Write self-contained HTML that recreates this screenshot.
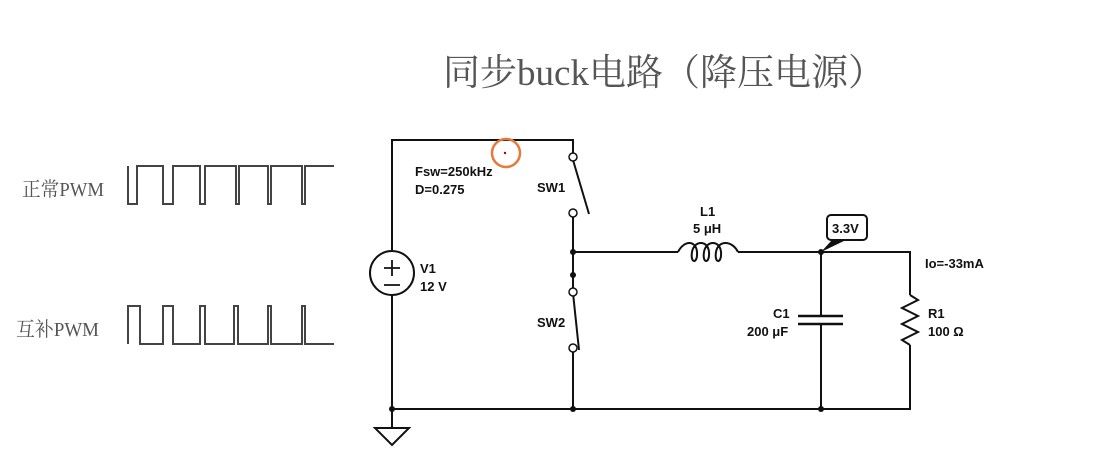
<!DOCTYPE html>
<html><head><meta charset="utf-8"><style>
body{margin:0;width:1097px;height:473px;background:#fff;overflow:hidden}
svg{display:block}
.t{font-family:"Liberation Sans",Arial,sans-serif;font-weight:bold;font-size:13px;fill:#111}
.s{font-family:"Liberation Serif","Noto Serif CJK SC",serif;fill:#555}
</style></head><body>
<svg width="1097" height="473" viewBox="0 0 1097 473">
<text class="s" x="443" y="85" font-size="37" textLength="442" lengthAdjust="spacingAndGlyphs">同步buck电路（降压电源）</text>
<text class="s" x="22" y="196" font-size="20" textLength="82" lengthAdjust="spacingAndGlyphs">正常PWM</text>
<text class="s" x="16" y="336" font-size="20" textLength="83" lengthAdjust="spacingAndGlyphs">互补PWM</text>
<g fill="none" stroke="#444" stroke-width="2">
<path d="M128,166 V204 H137 V166 H163 V204 H173 V166 H200 V204 H205 V166 H236 V204 H239 V166 H268 V204 H271 V166 H302 V204 H305 V166 H334"/>
<path d="M128,344 V306 H140 V344 H163 V306 H173 V344 H200 V306 H205 V344 H234 V306 H238 V344 H268 V306 H271 V344 H302 V306 H305 V344 H334"/>
</g>
<g fill="none" stroke="#111" stroke-width="2">
<path d="M392,251 V140 H573 V153"/>
<path d="M392,295 V409 H910 V345"/>
<path d="M910,295 V252 H738 M678,252 H573"/>
<path d="M573,217 V288 M573,352 V409"/>
<path d="M573,160 L589,214"/>
<path d="M573,293 L579,350"/>
<path d="M821,252 V316 M821,324 V409"/>
<path d="M798,316 H843 M798,324 H843" stroke-width="2.5"/>
<path d="M910,295 L918,300 L902,308 L918,316 L902,324 L918,332 L902,340 L910,345"/>
<circle cx="392" cy="273" r="22"/>
<path d="M384,268 H400 M392,260 V276 M384,285 H400" stroke-width="1.8"/>
<path d="M392,409 V428 M375,428 H409 L392,445 Z"/>
<path d="M678,252 C684,240 696,240 697,252 C698,264 690,264 692,252 C694,240 708,240 709,252 C710,264 702,264 704,252 C706,240 720,240 721,252 C722,264 714,264 716,252 C718,240 732,240 738,252" stroke-width="2"/>
</g>
<g fill="#fff" stroke="#111" stroke-width="1.5">
<circle cx="573" cy="157" r="4"/><circle cx="573" cy="213" r="4"/>
<circle cx="573" cy="292" r="4"/><circle cx="573" cy="348" r="4"/>
</g>
<g fill="#111">
<circle cx="573" cy="252" r="3"/><circle cx="573" cy="275" r="3"/>
<circle cx="392" cy="409" r="3"/><circle cx="573" cy="409" r="3"/>
<circle cx="821" cy="252" r="3"/><circle cx="821" cy="409" r="3"/>
<path d="M821,252 L832,240 L846,240 Z"/>
</g>
<rect x="827" y="215" width="40" height="25" rx="4" fill="#fff" stroke="#111" stroke-width="2"/>
<text class="t" x="832" y="233">3.3V</text>
<circle cx="506" cy="153" r="14" fill="none" stroke="#e8793a" stroke-width="2.5"/>
<circle cx="505" cy="153" r="1.2" fill="#a00"/>
<text class="t" x="415" y="176">Fsw=250kHz</text>
<text class="t" x="415" y="194">D=0.275</text>
<text class="t" x="537" y="192">SW1</text>
<text class="t" x="537" y="327">SW2</text>
<text class="t" x="420" y="273">V1</text>
<text class="t" x="420" y="291">12 V</text>
<text class="t" x="700" y="216">L1</text>
<text class="t" x="693" y="233">5 μH</text>
<text class="t" x="773" y="318">C1</text>
<text class="t" x="747" y="336">200 μF</text>
<text class="t" x="928" y="318">R1</text>
<text class="t" x="928" y="336">100 Ω</text>
<text class="t" x="925" y="268">Io=-33mA</text>
</svg>
</body></html>
